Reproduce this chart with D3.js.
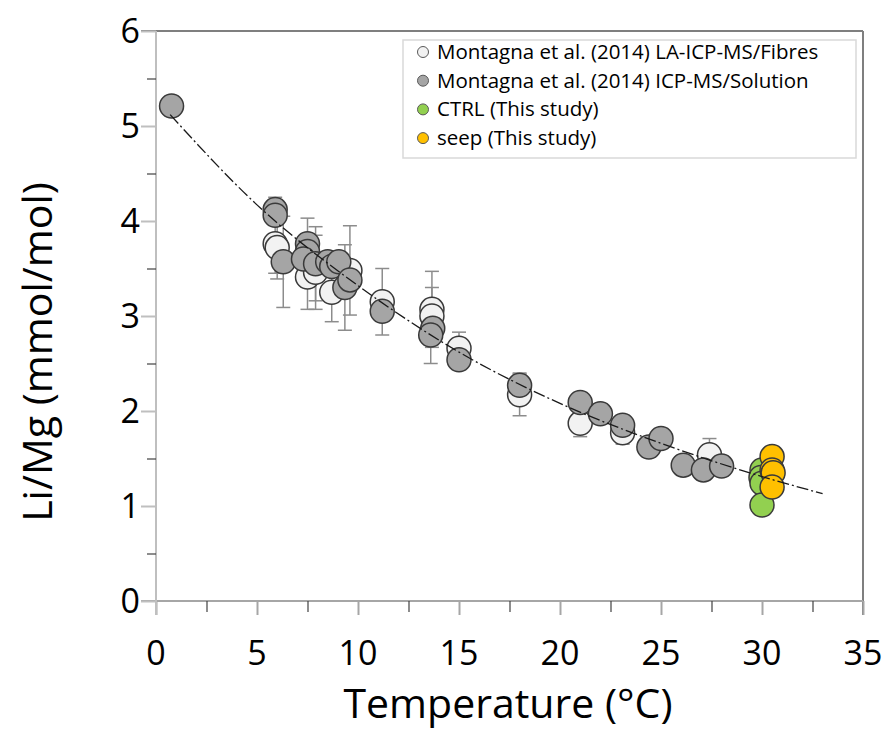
<!DOCTYPE html>
<html lang="en">
<head>
    <meta charset="utf-8">
    <title>Li/Mg vs Temperature</title>
    <script src="https://d3js.org/d3.v7.min.js"></script>
    <style>
        html, body {
            margin: 0;
            padding: 0;
            background: #fff;
        }
        text {
            font-family: "Open Sans", sans-serif;
            fill: #000;
        }
        .tick-label { font-size: 34px; }
        .axis-title { font-size: 41px; }
        .legend text { font-size: 20.5px; }
    </style>
</head>
<body>
<script type="text/javascript">

    // Montagna et al. (2014) LA-ICP-MS/Fibres
    var fibresT     = [5.9, 6.0, 7.5, 7.9, 8.7, 9.6, 11.2, 13.66, 13.66, 15.0, 18.0, 21.0, 23.1, 27.4];
    var fibresLiMg  = [3.76, 3.72, 3.41, 3.46, 3.25, 3.48, 3.15, 3.07, 3.00, 2.66, 2.17, 1.87, 1.77, 1.54];
    var fibresErr   = [0.31, 0.33, 0.34, 0.39, 0.31, 0.47, 0.35, 0.40, 0.30, 0.17, 0.22, 0.14, 0.12, 0.17];

    // Montagna et al. (2014) ICP-MS/Solution
    var solutionT    = [0.77, 5.9, 5.9, 6.3, 7.5, 7.5, 7.3, 7.9, 8.5, 8.7, 9.05, 9.35, 9.6, 11.2, 13.7, 13.6, 15.0, 18.0, 21.0, 22.0, 23.1, 24.4, 25.0, 26.1, 27.1, 28.0];
    var solutionLiMg = [5.21, 4.12, 4.06, 3.57, 3.76, 3.68, 3.60, 3.55, 3.57, 3.52, 3.57, 3.30, 3.38, 3.05, 2.87, 2.80, 2.54, 2.27, 2.09, 1.97, 1.85, 1.62, 1.71, 1.43, 1.38, 1.42];
    var solutionErr  = [0, 0.13, 0, 0.48, 0.27, 0, 0, 0.39, 0, 0, 0, 0.45, 0, 0, 0, 0.30, 0, 0.13, 0, 0, 0, 0, 0, 0, 0, 0];

    // CTRL (This study)
    var ctrlT    = [30.0, 29.95, 30.0, 30.0];
    var ctrlLiMg = [1.38, 1.30, 1.24, 1.01];

    // seep (This study)
    var seepT    = [30.5, 30.5, 30.55, 30.5];
    var seepLiMg = [1.52, 1.38, 1.35, 1.20];

    // fitted curve
    var fitT    = [0.7, 5, 10, 15, 20, 25, 30, 33];
    var fitLiMg = [5.12, 4.17, 3.32, 2.62, 2.08, 1.66, 1.31, 1.13];

    var xTicks = [0, 5, 10, 15, 20, 25, 30, 35];
    var yTicks = [0, 1, 2, 3, 4, 5, 6];

    var legendLabels = ["Montagna et al. (2014) LA-ICP-MS/Fibres",
        "Montagna et al. (2014) ICP-MS/Solution",
        "CTRL (This study)",
        "seep (This study)"];

    var w = 888, h = 738;
    var plotLeft = 156, plotRight = 863, plotTop = 31, plotBottom = 601;

    var xScale = d3.scaleLinear().domain([0, 35]).range([plotLeft, plotRight]);
    var yScale = d3.scaleLinear().domain([0, 6]).range([plotBottom, plotTop]);

    var svg = d3.select("body").append("svg")
        .attr("width", w)
        .attr("height", h);

    function zip(xs, ys, es) {
        return xs.map(function(x, i) { return {x: x, y: ys[i], e: es ? es[i] : 0}; });
    }
    var fibres = zip(fibresT, fibresLiMg, fibresErr);
    var solution = zip(solutionT, solutionLiMg, solutionErr);
    var ctrl = zip(ctrlT, ctrlLiMg);
    var seep = zip(seepT, seepLiMg);

    // frame: top and right
    svg.append("line")
        .attr("x1", xScale(0) - 15).attr("x2", xScale(35))
        .attr("y1", yScale(6)).attr("y2", yScale(6))
        .attr("stroke", "#7f7f7f").attr("stroke-width", 2);
    svg.append("line")
        .attr("x1", xScale(35)).attr("x2", xScale(35))
        .attr("y1", yScale(6)).attr("y2", yScale(0) + 14)
        .attr("stroke", "#7f7f7f").attr("stroke-width", 2);

    // x axis: major and minor ticks
    var xAxis = d3.axisBottom(xScale).tickValues(xTicks).tickSize(14).tickFormat("");
    var gx = svg.append("g")
        .attr("transform", "translate(0," + yScale(0) + ")")
        .call(xAxis);
    gx.select(".domain").attr("d", "M" + (xScale(0) - 15) + ",0H" + xScale(35));
    gx.selectAll("path, line").attr("stroke", "#a6a6a6").attr("stroke-width", 2);

    var xMinor = d3.axisBottom(xScale).tickValues(d3.range(2.5, 35, 5)).tickSize(11).tickFormat("");
    var gxm = svg.append("g")
        .attr("transform", "translate(0," + yScale(0) + ")")
        .call(xMinor);
    gxm.select(".domain").remove();
    gxm.selectAll("line").attr("stroke", "#404040").attr("stroke-width", 1.2);

    svg.selectAll(".xlab").data(xTicks).enter().append("text")
        .attr("class", "tick-label")
        .attr("x", function(d) { return xScale(d); })
        .attr("y", 665)
        .attr("text-anchor", "middle")
        .text(function(d) { return d; });

    // y axis
    var yAxis = d3.axisLeft(yScale).tickValues(yTicks).tickSize(15).tickFormat("");
    var gy = svg.append("g")
        .attr("transform", "translate(" + xScale(0) + ",0)")
        .call(yAxis);
    gy.select(".domain").attr("d", "M0," + yScale(6) + "V" + (yScale(0) + 14));
    gy.selectAll("path, line").attr("stroke", "#bfbfbf").attr("stroke-width", 2);

    var yMinor = d3.axisLeft(yScale).tickValues(d3.range(0.5, 6, 1)).tickSize(9).tickFormat("");
    var gym = svg.append("g")
        .attr("transform", "translate(" + xScale(0) + ",0)")
        .call(yMinor);
    gym.select(".domain").remove();
    gym.selectAll("line").attr("stroke", "#404040").attr("stroke-width", 1.2);

    svg.selectAll(".ylab").data(yTicks).enter().append("text")
        .attr("class", "tick-label")
        .attr("x", 140)
        .attr("y", function(d) { return yScale(d) + 12; })
        .attr("text-anchor", "end")
        .text(function(d) { return d; });

    // axis titles
    svg.append("text")
        .attr("class", "axis-title")
        .attr("x", 508).attr("y", 718)
        .attr("text-anchor", "middle")
        .text("Temperature (°C)");
    svg.append("text")
        .attr("class", "axis-title")
        .attr("transform", "translate(52,352) rotate(-90)")
        .attr("text-anchor", "middle")
        .text("Li/Mg (mmol/mol)");

    // error bars
    var withErr = fibres.concat(solution).filter(function(d) { return d.e > 0; });
    var eb = svg.append("g").attr("stroke", "#8c8c8c").attr("stroke-width", 1.5);
    withErr.forEach(function(d) {
        var cx = xScale(d.x);
        eb.append("line").attr("x1", cx).attr("x2", cx)
            .attr("y1", yScale(d.y - d.e)).attr("y2", yScale(d.y + d.e));
        eb.append("line").attr("x1", cx - 7).attr("x2", cx + 7)
            .attr("y1", yScale(d.y - d.e)).attr("y2", yScale(d.y - d.e));
        eb.append("line").attr("x1", cx - 7).attr("x2", cx + 7)
            .attr("y1", yScale(d.y + d.e)).attr("y2", yScale(d.y + d.e));
    });

    function drawPoints(data, fill) {
        svg.append("g").selectAll("circle").data(data).enter().append("circle")
            .attr("cx", function(d) { return xScale(d.x); })
            .attr("cy", function(d) { return yScale(d.y); })
            .attr("r", 12)
            .attr("fill", fill)
            .attr("stroke", "#3a3a3a")
            .attr("stroke-width", 1.5);
    }
    drawPoints(fibres, "#f2f2f2");
    drawPoints(solution, "#a5a5a5");
    drawPoints(ctrl, "#92d050");
    drawPoints(seep, "#ffc000");

    // fit line
    var line = d3.line()
        .x(function(d) { return xScale(d[0]); })
        .y(function(d) { return yScale(d[1]); })
        .curve(d3.curveMonotoneX);
    svg.append("path")
        .datum(fitT.map(function(t, i) { return [t, fitLiMg[i]]; }))
        .attr("d", line)
        .attr("fill", "none")
        .attr("stroke", "#1a1a1a")
        .attr("stroke-width", 1.3)
        .attr("stroke-dasharray", "12,3,2,3");

    // legend
    var legend = svg.append("g").attr("class", "legend");
    legend.append("rect")
        .attr("x", 403).attr("y", 40)
        .attr("width", 453).attr("height", 118)
        .attr("fill", "#fff")
        .attr("stroke", "#d9d9d9")
        .attr("stroke-width", 1.5);
    var legendColors = ["#f2f2f2", "#a5a5a5", "#92d050", "#ffc000"];
    legendLabels.forEach(function(lab, i) {
        var y = 52 + i * 28.7;
        legend.append("circle")
            .attr("cx", 423).attr("cy", y)
            .attr("r", 5.5)
            .attr("fill", legendColors[i])
            .attr("stroke", "#595959")
            .attr("stroke-width", 1);
        legend.append("text")
            .attr("x", 437).attr("y", y + 7)
            .text(lab);
    });

</script>
</body>
</html>
